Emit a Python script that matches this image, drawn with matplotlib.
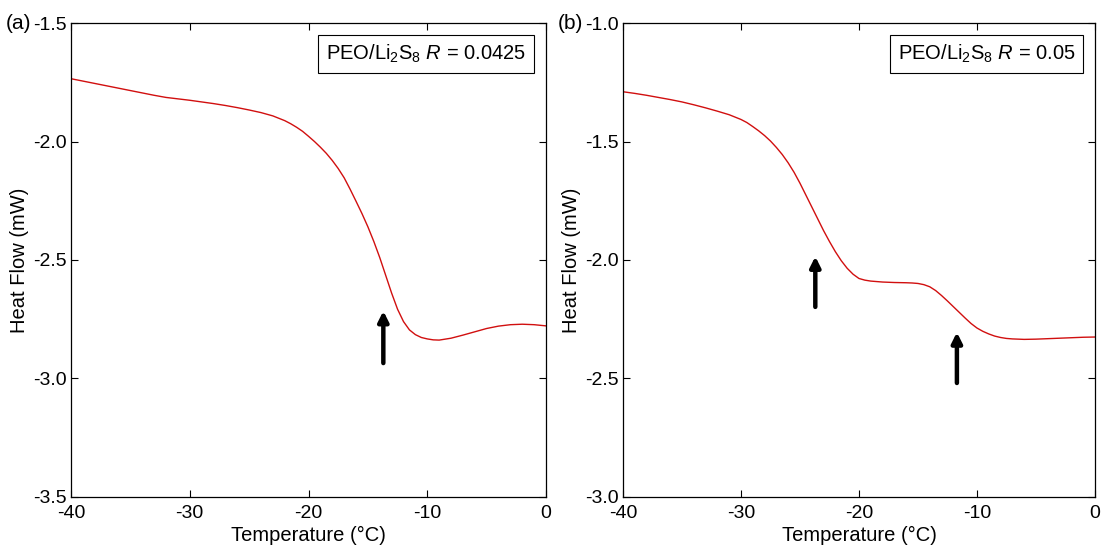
import numpy as np
import matplotlib.pyplot as plt

plt.rcParams['font.family'] = ['Liberation Sans', 'DejaVu Sans']
plt.rcParams['mathtext.fontset'] = 'custom'
plt.rcParams['mathtext.rm'] = 'Liberation Sans'
plt.rcParams['mathtext.it'] = 'Liberation Sans:italic'
plt.rcParams['axes.unicode_minus'] = False

# (a) PEO/Li2S8 R = 0.0425 (denser where the curve bends)
temp_a = [-40, -39, -38, -37, -36, -35, -34, -33, -32, -31, -30, -29, -28, -27, -26,
          -25, -24, -23, -22, -21.5, -21, -20.5, -20, -19.5, -19, -18.5, -18, -17.5,
          -17, -16.5, -16, -15.5, -15, -14.5, -14, -13.5, -13, -12.5, -12, -11.5, -11,
          -10.5, -10, -9.5, -9, -8, -7, -6, -5, -4, -3, -2, -1, 0]
heat_a = [-1.735, -1.745, -1.755, -1.765, -1.775, -1.785, -1.795, -1.805, -1.814, -1.820,
          -1.826, -1.833, -1.840, -1.848, -1.857, -1.867, -1.878, -1.892, -1.912, -1.925,
          -1.940, -1.957, -1.978, -2.000, -2.024, -2.050, -2.080, -2.114, -2.153, -2.201,
          -2.252, -2.304, -2.360, -2.422, -2.490, -2.565, -2.640, -2.708, -2.760, -2.795,
          -2.815, -2.827, -2.833, -2.837, -2.838, -2.830, -2.817, -2.803, -2.789, -2.779,
          -2.773, -2.771, -2.773, -2.778]

# (b) PEO/Li2S8 R = 0.05
temp_b = [-40, -39, -38, -37, -36, -35, -34, -33, -32, -31, -30, -29.5, -29, -28.5, -28,
          -27.5, -27, -26.5, -26, -25.5, -25, -24.5, -24, -23.5, -23, -22.5, -22, -21.5,
          -21, -20.5, -20, -19.5, -19, -18, -17, -16, -15.5, -15, -14.5, -14, -13.5, -13,
          -12.5, -12, -11.5, -11, -10.5, -10, -9.5, -9, -8.5, -8, -7.5, -7, -6, -5, -4,
          -3, -2, -1, 0]
heat_b = [-1.290, -1.297, -1.305, -1.314, -1.323, -1.333, -1.345, -1.358, -1.372, -1.387,
          -1.407, -1.420, -1.437, -1.455, -1.475, -1.498, -1.525, -1.555, -1.590, -1.630,
          -1.676, -1.726, -1.776, -1.826, -1.876, -1.922, -1.965, -2.003, -2.035, -2.060,
          -2.078, -2.085, -2.089, -2.093, -2.095, -2.096, -2.097, -2.099, -2.104, -2.113,
          -2.129, -2.150, -2.173, -2.197, -2.221, -2.245, -2.268, -2.287, -2.301, -2.312,
          -2.321, -2.327, -2.331, -2.333, -2.335, -2.334, -2.332, -2.330, -2.328, -2.326,
          -2.325]

labels = ["PEO/Li$_2$S$_8$ $R$ = 0.0425", "PEO/Li$_2$S$_8$ $R$ = 0.05"]
panel_tags = ["(a)", "(b)"]
ylims = [(-3.5, -1.5), (-3.0, -1.0)]
yticks = [[-3.5, -3.0, -2.5, -2.0, -1.5], [-3.0, -2.5, -2.0, -1.5, -1.0]]
xticks = [-40, -30, -20, -10, 0]

# arrows (x, y_tail, y_tip) marking the transitions
arrows_a = [(-13.7, -2.935, -2.715)]
arrows_b = [(-23.7, -2.198, -1.985), (-11.7, -2.519, -2.305)]

fig = plt.figure(figsize=(11.04, 5.48), dpi=100)
ax_a = fig.add_axes([0.0643, 0.0931, 0.4303, 0.8649])
ax_b = fig.add_axes([0.5643, 0.0931, 0.4275, 0.8649])

panels = [(ax_a, temp_a, heat_a, arrows_a), (ax_b, temp_b, heat_b, arrows_b)]
for i, (ax, temp, heat, arrows) in enumerate(panels):
    ax.plot(temp, heat, color='#d10f0f', lw=1.0)
    ax.set_xlim(-40, 0)
    ax.set_ylim(*ylims[i])
    ax.set_xticks(xticks)
    ax.set_yticks(yticks[i])
    ax.set_yticklabels(["%.1f" % v for v in yticks[i]])
    ax.tick_params(direction='in', top=True, right=True, length=5, width=0.8,
                   labelsize=14, pad=3)
    ax.tick_params(axis='x', pad=6)
    for s in ax.spines.values():
        s.set_linewidth(0.9)
    ax.set_xlabel("Temperature (°C)", fontsize=14.5)
    ax.set_ylabel("Heat Flow (mW)", fontsize=14.5)
    ax.xaxis.set_label_coords(0.5, -0.062)
    ax.yaxis.set_label_coords(-0.088, 0.5)
    ax.text(0.958, 0.958, labels[i], transform=ax.transAxes, ha='right', va='top',
            fontsize=14.5, bbox=dict(boxstyle='square,pad=0.38', fc='white', ec='black', lw=0.8))
    ax.text(-0.138, 1.0, panel_tags[i], transform=ax.transAxes, ha='left', va='center',
            fontsize=15)
    for x, y0, y1 in arrows:
        ax.annotate("", xy=(x, y1), xytext=(x, y0),
                    arrowprops=dict(arrowstyle='-|>,head_length=0.6,head_width=0.3',
                                    color='black', lw=3.2, shrinkA=0, shrinkB=0))

fig.savefig("out.png", dpi=100)
